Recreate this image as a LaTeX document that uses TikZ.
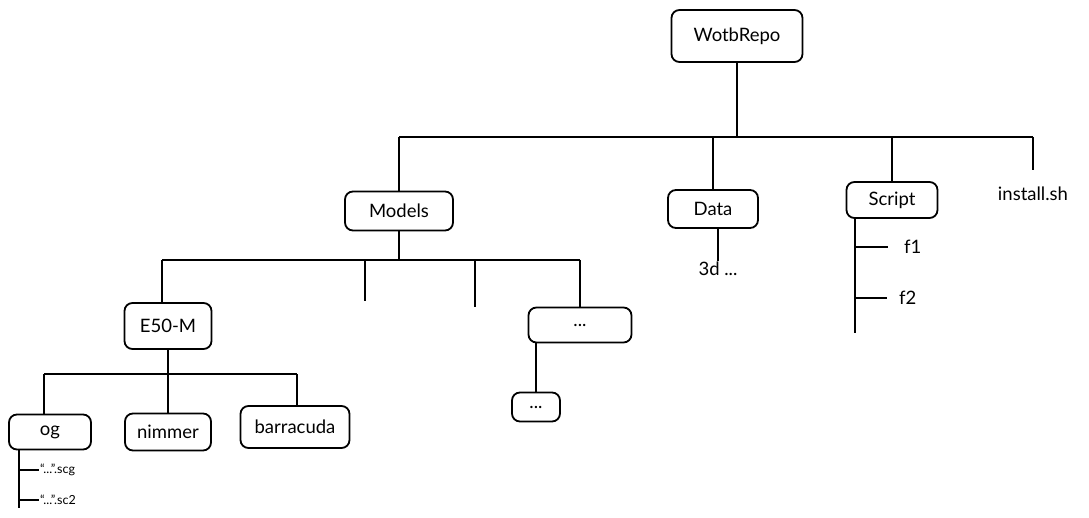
\documentclass[tikz,border=0pt]{standalone}
\usepackage{fontspec}
\setmainfont{Lato}
\begin{document}
\begin{tikzpicture}[x=1pt,y=-1pt,
  box/.style={draw, rounded corners=8pt, line width=1.8pt, inner sep=0pt, font=\fontsize{18.5}{22}\selectfont},
  lbl/.style={inner sep=1pt, font=\fontsize{18.5}{22}\selectfont},
  small/.style={inner sep=1pt, font=\fontsize{12.5}{15}\selectfont},
  con/.style={line width=2pt}]
\useasboundingbox (0,0) rectangle (1089,518);
% nodes
\node[box, minimum width=131pt, minimum height=52pt] (root) at (737,36) {WotbRepo};
\node[box, minimum width=108pt, minimum height=39pt] (models) at (399,211) {Models};
\node[box, minimum width=90pt, minimum height=38pt] (data) at (713,209) {Data};
\node[box, minimum width=91pt, minimum height=36pt] (script) at (892,200) {Script};
\node[lbl] (install) at (1033,194) {install.sh};
\node[lbl, anchor=north] (d3) at (718,261) {3d ...};
\node[lbl, anchor=west, inner sep=0pt] (f1) at (904,247) {f1};
\node[lbl, anchor=west, inner sep=0pt] (f2) at (899,298) {f2};
\node[box, minimum width=87pt, minimum height=46pt] (e50) at (168,326) {E50-M};
\node[box, minimum width=103pt, minimum height=35pt] (dots1) at (580,325) {...};
\node[box, minimum width=48pt, minimum height=29pt] (dots2) at (536,407) {...};
\node[box, minimum width=82pt, minimum height=35pt] (og) at (50,432) {og};
\node[box, minimum width=86pt, minimum height=37pt] (nimmer) at (168,432) {nimmer};
\node[box, minimum width=109pt, minimum height=42pt] (barr) at (295,427) {barracuda};
\node[small, anchor=west] (scg) at (39,470) {“...”.scg};
\node[small, anchor=west] (sc2) at (39,500) {“...”.sc2};
% coordinates
\coordinate (b1L) at (399,137);
\coordinate (b1R) at (1033,137);
\coordinate (instTop) at (1033,170);
\coordinate (mL) at (162,260);
\coordinate (mR) at (580,260);
\coordinate (s1top) at (365,260);
\coordinate (s1bot) at (365,301);
\coordinate (s2top) at (475,260);
\coordinate (s2bot) at (475,307);
\coordinate (eL) at (44,374);
\coordinate (eR) at (297,374);
\coordinate (ogB) at (19,508);
\coordinate (scB) at (855,333);
% top level
\draw[con] (root.south) -- (root.south |- b1L);
\draw[con] (b1L) -- (b1R);
\draw[con] (b1L) -- (models.north);
\draw[con] (data.north |- b1L) -- (data.north);
\draw[con] (script.north |- b1L) -- (script.north);
\draw[con] (b1R) -- (instTop);
% data
\draw[con] (d3.north |- data.south) -- (d3.north);
% script
\draw[con] (scB |- script.south) -- (scB);
\draw[con, shorten >=16pt] (scB |- f1.west) -- (f1.west);
\draw[con, shorten >=12pt] (scB |- f2.west) -- (f2.west);
% models
\draw[con] (models.south) -- (models.south |- mL);
\draw[con] (mL) -- (mR);
\draw[con] (mL) -- (mL |- e50.north);
\draw[con] (s1top) -- (s1bot);
\draw[con] (s2top) -- (s2bot);
\draw[con] (mR) -- (dots1.north);
\draw[con] (dots2.north |- dots1.south) -- (dots2.north);
% e50
\draw[con] (e50.south) -- (e50.south |- eL);
\draw[con] (eL) -- (eR);
\draw[con] (og.north -| eL) -- (eL);
\draw[con] (nimmer.north |- eL) -- (nimmer.north);
\draw[con] (eR) -- (eR |- barr.north);
% og
\draw[con] (ogB |- og.south) -- (ogB);
\draw[con] (ogB |- scg.west) -- (scg.west);
\draw[con] (ogB |- sc2.west) -- (sc2.west);
\end{tikzpicture}
\end{document}
